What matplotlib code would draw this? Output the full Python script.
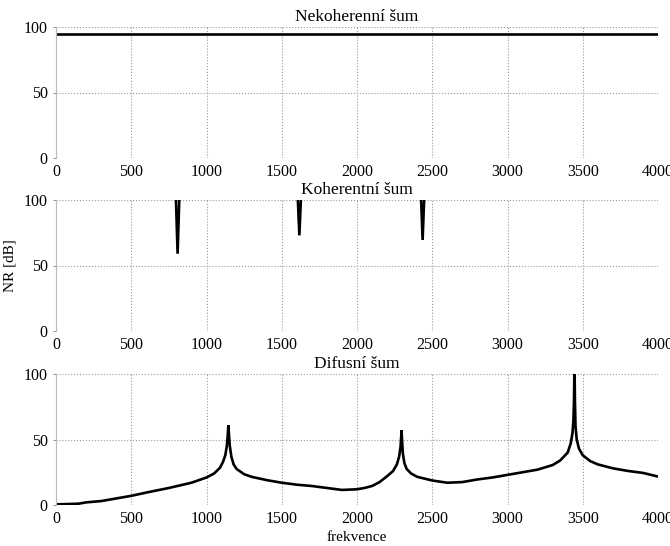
import matplotlib
matplotlib.use("Agg")
import matplotlib.pyplot as plt

# ---- data ----
freq_inc = [0, 4000]
nr_inc = [95.0, 95.0]

freq_coh = [0, 780, 797, 808, 819, 836, 1595, 1607, 1617, 1627, 1640,
            2415, 2426, 2436, 2446, 2458, 4000]
nr_coh = [130, 130, 100, 59, 100, 130, 130, 100, 73, 100, 130,
          130, 100, 69.5, 100, 130, 130]

freq_dif = [0, 100, 150, 200, 300, 400, 500, 600, 750, 900, 1000, 1050, 1090,
            1110, 1125, 1135, 1141, 1145, 1149, 1155, 1165, 1180, 1200, 1250,
            1300, 1400, 1500, 1600, 1700, 1800, 1900, 2000, 2050, 2100, 2150,
            2200, 2240, 2265, 2280, 2289, 2293, 2296, 2299, 2305, 2315, 2330,
            2360, 2400, 2500, 2600, 2700, 2800, 2900, 3000, 3100, 3200, 3300,
            3350, 3400, 3420, 3432, 3438, 3442, 3445, 3448, 3452, 3460, 3475,
            3500, 3550, 3600, 3700, 3800, 3900, 4000]
nr_dif = [0.5, 0.8, 1.0, 2.0, 3.0, 5.0, 7.0, 9.5, 13.0, 17.0, 21.0, 24.0, 28.5,
          33.0, 38.0, 45.0, 53.0, 61.0, 54.0, 45.0, 37.0, 31.0, 27.5, 23.5,
          21.5, 19.0, 17.0, 15.5, 14.5, 13.0, 11.5, 12.0, 13.0, 14.5, 17.5,
          22.0, 26.0, 31.0, 37.0, 44.0, 51.0, 57.0, 50.0, 39.0, 32.0, 27.5,
          24.0, 21.5, 18.7, 17.0, 17.5, 19.5, 21.0, 23.0, 25.0, 27.0, 30.5,
          34.0, 40.0, 47.0, 55.0, 65.0, 80.0, 110.0, 80.0, 60.0, 50.0, 43.0,
          38.0, 33.5, 31.0, 28.0, 26.0, 24.5, 21.7]

titles = ["Nekoherenní šum", "Koherentní šum", "Difusní šum"]
xticks = [0, 500, 1000, 1500, 2000, 2500, 3000, 3500, 4000]
yticks = [0, 50, 100]

plt.rcParams['font.family'] = ['Liberation Serif', 'DejaVu Serif']
fig = plt.figure(figsize=(6.7, 5.46), dpi=100)

W = 670.0
H = 546.0
boxes = [(27, 158), (200, 331), (374, 505)]
series = [(freq_inc, nr_inc), (freq_coh, nr_coh), (freq_dif, nr_dif)]

axes = []
for (top, bot), (fx, fy), title in zip(boxes, series, titles):
    ax = fig.add_axes([56 / W, 1 - bot / H, 602 / W, (bot - top) / H])
    ax.plot(fx, fy, color='black', linewidth=1.9, solid_joinstyle='miter')
    ax.set_xlim(0, 4000)
    ax.set_ylim(0, 100)
    ax.set_xticks(xticks)
    ax.set_yticks(yticks)
    ax.grid(True, linestyle=':', color='#999999', linewidth=0.8)
    for name, s in ax.spines.items():
        s.set_visible(False)
    ax.spines['left'].set_visible(True)
    ax.spines['left'].set_color('#bbbbbb')
    ax.spines['left'].set_linewidth(0.8)
    ax.tick_params(axis='y', length=2, color='#999999', labelsize=11.5, pad=4)
    ax.tick_params(axis='x', length=0, labelsize=11.5, pad=4)
    ax.set_title(title, fontsize=12.5, pad=4)
    axes.append(ax)

axes[1].set_ylabel("NR [dB]", fontsize=11, labelpad=5)
axes[2].set_xlabel("frekvence", fontsize=11, labelpad=3)

fig.savefig("out.png", dpi=100)
